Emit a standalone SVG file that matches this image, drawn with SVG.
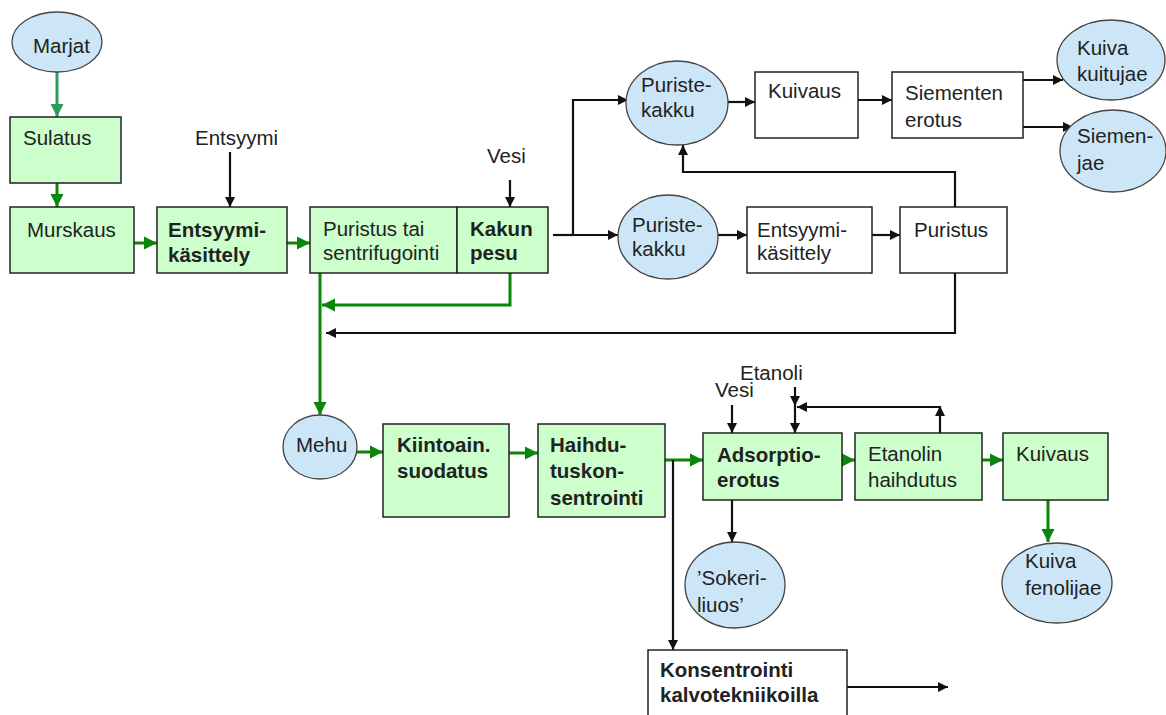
<svg xmlns="http://www.w3.org/2000/svg" width="1166" height="715" viewBox="0 0 1166 715">
<style>
  text { font-family: "Liberation Sans", Arial, sans-serif; font-size: 20.5px; fill: #222; }
  .b { font-weight: bold; }
  .box { fill: #ccffcc; stroke: #222; stroke-width: 1.5; }
  .wbox { fill: #ffffff; stroke: #222; stroke-width: 1.5; }
  .ell { fill: #cce6f7; stroke: #444; stroke-width: 1.3; }
  .g { fill: none; stroke: #0a860a; stroke-width: 3; marker-end: url(#ag); }
  .gn { fill: none; stroke: #0a860a; stroke-width: 3; }
  .t { fill: none; stroke: #2e9a60; stroke-width: 3; marker-end: url(#at); }
  .k { fill: none; stroke: #111; stroke-width: 2.2; marker-end: url(#ak); }
  .kn { fill: none; stroke: #111; stroke-width: 2.2; }
</style>
<defs>
  <marker id="ag" viewBox="0 0 10 10" refX="10" refY="5" markerWidth="13" markerHeight="14" markerUnits="userSpaceOnUse" orient="auto">
    <path d="M0,0 L10,5 L0,10 z" fill="#0a860a"/>
  </marker>
  <marker id="at" viewBox="0 0 10 10" refX="10" refY="5" markerWidth="13" markerHeight="14" markerUnits="userSpaceOnUse" orient="auto">
    <path d="M0,0 L10,5 L0,10 z" fill="#2e9a60"/>
  </marker>
  <marker id="ak" viewBox="0 0 10 10" refX="10" refY="5" markerWidth="11" markerHeight="10" markerUnits="userSpaceOnUse" orient="auto">
    <path d="M0,0 L10,5 L0,10 z" fill="#111"/>
  </marker>
</defs>
<rect width="1166" height="715" fill="#ffffff"/>

<g id="connectors">
  <path class="t" d="M57 72 V117"/>
  <path class="g" d="M57 183 V207"/>
  <path class="g" d="M129 243 H157"/>
  <path class="k" d="M230 152 V207"/>
  <path class="g" d="M287 243 H310"/>
  <path class="k" d="M510 180 V207"/>
  <path class="g" d="M510 273 V305 H322"/>
  <path class="g" d="M320 273 V415"/>
  <path class="kn" d="M553 235 H573"/>
  <path class="k" d="M573 235 V100 H628"/>
  <path class="k" d="M573 235 H618"/>
  <path class="k" d="M728 102 H755"/>
  <path class="k" d="M858 100 H892"/>
  <path class="k" d="M1017 80 H1063"/>
  <path class="k" d="M1023 127 H1073"/>
  <path class="k" d="M718 235 H747"/>
  <path class="k" d="M872 235 H900"/>
  <path class="k" d="M955 207 V172 H683 V145"/>
  <path class="k" d="M955 273 V333 H326"/>
  <path class="g" d="M357 452 H383"/>
  <path class="g" d="M509 453 H538"/>
  <path class="g" d="M665 460 H703"/>
  <path class="k" d="M673 460 V650"/>
  <path class="k" d="M732 405 V433"/>
  <path class="k" d="M795 387 V406"/>
  <path class="k" d="M795 406 V433"/>
  <path class="k" d="M940 433 V406"/>
  <path class="k" d="M940 407 H797"/>
  <path class="g" d="M830 460 H855"/>
  <path class="g" d="M982 460 H1003"/>
  <path class="g" d="M1048 500 V542"/>
  <path class="k" d="M732 500 V542"/>
  <path class="k" d="M847 687 H948"/>
</g>

<g id="marjat"><ellipse class="ell" cx="57" cy="42" rx="45" ry="30"/><text x="33" y="53">Marjat</text></g>
<g id="sulatus"><rect class="box" x="10" y="117" width="111" height="66"/><text x="23" y="145">Sulatus</text></g>
<g id="murskaus"><rect class="box" x="10" y="207" width="124" height="66"/><text x="27" y="237">Murskaus</text></g>
<g id="entsyymi-label"><text x="195" y="145">Entsyymi</text></g>
<g id="entsyymikasittely"><rect class="box" x="157" y="207" width="130" height="66"/><text class="b" x="168" y="237">Entsyymi-</text><text class="b" x="168" y="262">käsittely</text></g>
<g id="puristus-sentrifugointi"><rect class="box" x="310" y="207" width="147" height="66"/><text x="323" y="236">Puristus tai</text><text x="323" y="260">sentrifugointi</text></g>
<g id="kakun-pesu"><rect class="box" x="457" y="207" width="91" height="66"/><text class="b" x="470" y="236">Kakun</text><text class="b" x="470" y="260">pesu</text></g>
<g id="vesi-label"><text x="487" y="163">Vesi</text></g>
<g id="puristekakku1"><ellipse class="ell" cx="677" cy="103" rx="51" ry="42"/><text x="641" y="92">Puriste-</text><text x="641" y="117">kakku</text></g>
<g id="puristekakku2"><ellipse class="ell" cx="668" cy="237" rx="50" ry="42"/><text x="632" y="232">Puriste-</text><text x="632" y="256">kakku</text></g>
<g id="kuivaus1"><rect class="wbox" x="755" y="72" width="103" height="66"/><text x="768" y="98">Kuivaus</text></g>
<g id="siementen-erotus"><rect class="wbox" x="892" y="72" width="131" height="66"/><text x="905" y="100">Siementen</text><text x="905" y="127">erotus</text></g>
<g id="kuiva-kuitujae"><ellipse class="ell" cx="1111" cy="60" rx="54" ry="40"/><text x="1077" y="55">Kuiva</text><text x="1077" y="81">kuitujae</text></g>
<g id="siemenjae"><ellipse class="ell" cx="1113" cy="151" rx="53" ry="41"/><text x="1077" y="143">Siemen-</text><text x="1077" y="170">jae</text></g>
<g id="entsyymikasittely2"><rect class="wbox" x="747" y="207" width="125" height="66"/><text x="757" y="237">Entsyymi-</text><text x="757" y="260">käsittely</text></g>
<g id="puristus2"><rect class="wbox" x="900" y="207" width="107" height="66"/><text x="914" y="237">Puristus</text></g>
<g id="mehu"><ellipse class="ell" cx="320" cy="447" rx="37" ry="32"/><text x="296" y="452">Mehu</text></g>
<g id="kiintoain"><rect class="box" x="383" y="424" width="126" height="93"/><text class="b" x="397" y="452">Kiintoain.</text><text class="b" x="397" y="478">suodatus</text></g>
<g id="haihdutus"><rect class="box" x="538" y="424" width="127" height="93"/><text class="b" x="550" y="452">Haihdu-</text><text class="b" x="550" y="478">tuskon-</text><text class="b" x="550" y="505">sentrointi</text></g>
<g id="vesi2-label"><text x="715" y="397">Vesi</text></g>
<g id="etanoli-label"><text x="740" y="380">Etanoli</text></g>
<g id="adsorptio"><rect class="box" x="703" y="433" width="139" height="67"/><text class="b" x="717" y="462">Adsorptio-</text><text class="b" x="717" y="487">erotus</text></g>
<g id="etanolin-haihdutus"><rect class="box" x="855" y="433" width="127" height="67"/><text x="868" y="461">Etanolin</text><text x="868" y="487">haihdutus</text></g>
<g id="kuivaus2"><rect class="box" x="1003" y="433" width="105" height="67"/><text x="1016" y="461">Kuivaus</text></g>
<g id="sokeriliuos"><ellipse class="ell" cx="735" cy="585" rx="50" ry="43"/><text x="697" y="585">’Sokeri-</text><text x="697" y="612">liuos’</text></g>
<g id="kuiva-fenolijae"><ellipse class="ell" cx="1057" cy="583" rx="55" ry="40"/><text x="1025" y="568">Kuiva</text><text x="1025" y="595">fenolijae</text></g>
<g id="konsentrointi"><rect class="wbox" x="648" y="650" width="199" height="66"/><text class="b" x="660" y="677">Konsentrointi</text><text class="b" x="660" y="702">kalvotekniikoilla</text></g>
</svg>
